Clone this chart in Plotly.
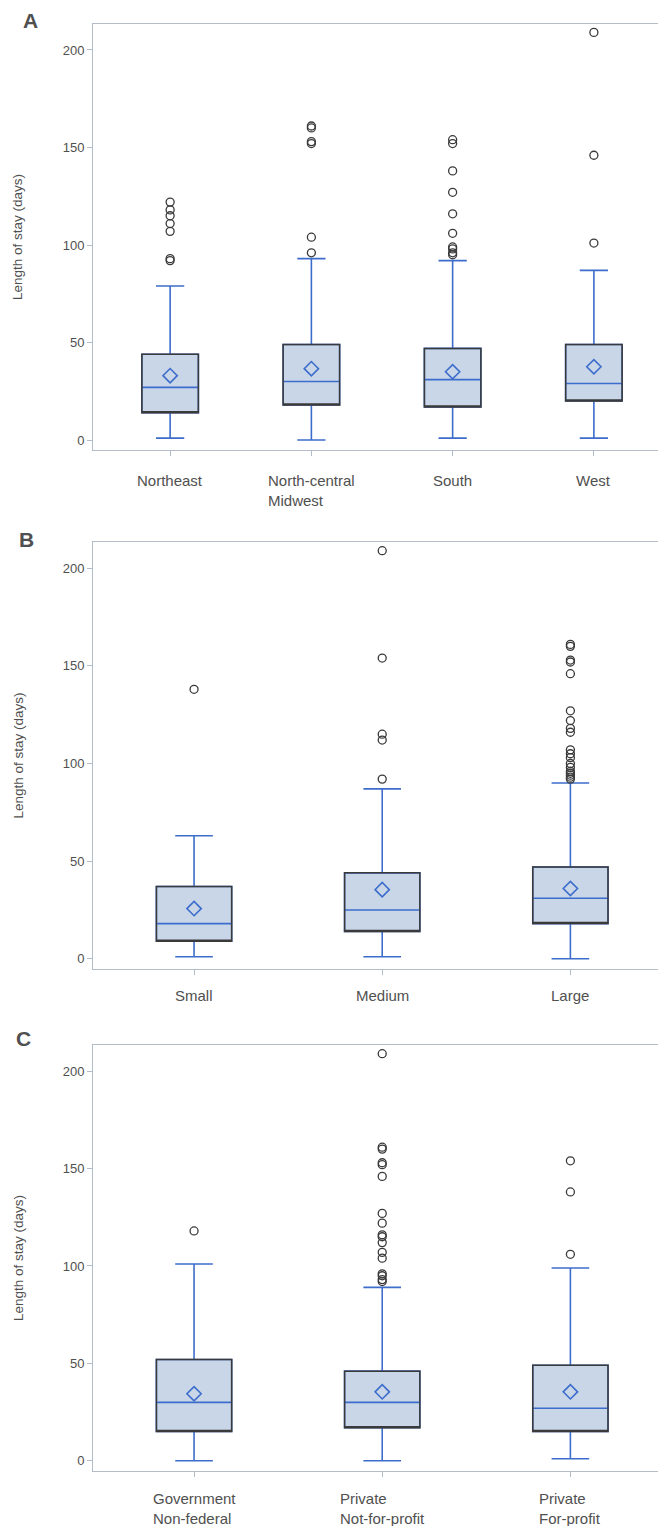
import plotly.graph_objects as go

# ---------------- data ----------------
A_cats = ["Northeast", "North-central<br>Midwest", "South", "West"]
A_q1 = [14, 18, 17, 20]
A_med = [27, 30, 31, 29]
A_q3 = [44, 49, 47, 49]
A_mean = [33, 36.6, 35, 37.6]
A_low = [1, 0, 1, 1]
A_high = [79, 93, 92, 87]
A_out = [[122, 118, 115, 111, 107, 93, 92],
         [161, 160, 153, 152, 104, 96],
         [154, 152, 138, 127, 116, 106, 99, 98, 96, 95],
         [209, 146, 101]]

B_cats = ["Small", "Medium", "Large"]
B_q1 = [9, 14, 18]
B_med = [18, 25, 31]
B_q3 = [37, 44, 47]
B_mean = [25.7, 35.4, 36]
B_low = [1, 1, 0]
B_high = [63, 87, 90]
B_out = [[138],
         [209, 154, 115, 112, 92],
         [161, 160, 153, 152, 146, 127, 122, 118, 116, 107, 105, 103, 100, 98, 96, 95, 94, 93, 92]]

C_cats = ["Government<br>Non-federal", "Private<br>Not-for-profit", "Private<br>For-profit"]
C_q1 = [15, 17, 15]
C_med = [30, 30, 27]
C_q3 = [52, 46, 49]
C_mean = [34.4, 35.4, 35.4]
C_low = [0, 0, 1]
C_high = [101, 89, 99]
C_out = [[118],
         [209, 161, 160, 153, 152, 146, 127, 122, 116, 115, 112, 107, 104, 96, 95, 93, 92],
         [154, 138, 106]]

panel_letters = ["A", "B", "C"]
y_title = "Length of stay (days)"
y_ticks = [0, 50, 100, 150, 200]

# ---------------- style ----------------
W, H = 666, 1526
BLUE = "#3D6DCC"
FILL = "#C9D6E8"
DARK = "#3A3A3A"
FRAME = "#B3BDC8"
TXT = "#505050"
FONT = "Liberation Sans, Arial, sans-serif"

panels = [
    dict(cats=A_cats, q1=A_q1, med=A_med, q3=A_q3, mean=A_mean, low=A_low, high=A_high, out=A_out,
         top=16, bottom=442, xr=[-0.546, 3.553], letter_xy=(22, 12.5), lab_gap=20),
    dict(cats=B_cats, q1=B_q1, med=B_med, q3=B_q3, mean=B_mean, low=B_low, high=B_high, out=B_out,
         top=534.3, bottom=960.7, xr=[-0.537, 2.54], letter_xy=(18, 531), lab_gap=16),
    dict(cats=C_cats, q1=C_q1, med=C_med, q3=C_q3, mean=C_mean, low=C_low, high=C_high, out=C_out,
         top=1037.3, bottom=1462.7, xr=[-0.537, 2.54], letter_xy=(15, 1030), lab_gap=17),
]

fig = go.Figure()
annotations = []
layout_axes = {}

for i, p in enumerate(panels):
    n = "" if i == 0 else str(i + 1)
    xa, ya = "x" + n, "y" + n
    # main box (blue whiskers + median, filled)
    fig.add_trace(go.Box(
        x=p["cats"], q1=p["q1"], median=p["med"], q3=p["q3"],
        lowerfence=p["low"], upperfence=p["high"],
        fillcolor=FILL, line=dict(color=BLUE, width=1.6),
        width=0.4, whiskerwidth=0.5, boxpoints=False,
        xaxis=xa, yaxis=ya, showlegend=False, hoverinfo="skip"))
    # dark box outline on top (transparent fill, whiskers collapsed onto box)
    fig.add_trace(go.Box(
        x=p["cats"], q1=p["q1"], median=p["q1"], q3=p["q3"],
        lowerfence=p["q1"], upperfence=p["q3"],
        fillcolor="rgba(0,0,0,0)", line=dict(color=DARK, width=1.5),
        width=0.4, whiskerwidth=0, boxpoints=False,
        xaxis=xa, yaxis=ya, showlegend=False, hoverinfo="skip"))
    # means
    fig.add_trace(go.Scatter(
        x=p["cats"], y=p["mean"], mode="markers",
        marker=dict(symbol="diamond-open", size=11, color=BLUE, line=dict(width=1.6, color=BLUE)),
        xaxis=xa, yaxis=ya, showlegend=False, hoverinfo="skip"))
    # outliers
    ox, oy = [], []
    for c, vals in zip(p["cats"], p["out"]):
        for v in vals:
            ox.append(c)
            oy.append(v)
    fig.add_trace(go.Scatter(
        x=ox, y=oy, mode="markers",
        marker=dict(symbol="circle-open", size=8, color=DARK, line=dict(width=1.3, color=DARK)),
        xaxis=xa, yaxis=ya, showlegend=False, hoverinfo="skip"))

    dom = [1 - p["bottom"] / H, 1 - p["top"] / H]
    layout_axes["xaxis" + n] = dict(
        domain=[85 / W, 664 / W], anchor=ya, type="category",
        categoryorder="array", categoryarray=p["cats"], range=p["xr"],
        showline=True, mirror=True, linecolor=FRAME, linewidth=1,
        ticks="outside", ticklen=5, tickcolor=FRAME, showticklabels=False,
        showgrid=False, zeroline=False, fixedrange=True)
    layout_axes["yaxis" + n] = dict(
        domain=dom, anchor=xa, range=[-5.1, 213.3],
        tickvals=y_ticks, ticks="outside", ticklen=5, tickcolor=FRAME,
        tickfont=dict(family=FONT, size=13, color=TXT),
        showline=True, mirror=True, linecolor=FRAME, linewidth=1,
        showgrid=False, zeroline=False, fixedrange=True)

    # category labels (left-aligned lines, centred blocks)
    for c in p["cats"]:
        annotations.append(dict(
            x=c, xref=xa, y=0, yref=ya + " domain", yanchor="top", xanchor="center",
            yshift=-p["lab_gap"], text=c, align="left", showarrow=False,
            font=dict(family=FONT, size=15, color=TXT)))
    # y title
    annotations.append(dict(
        x=10 / W, xref="paper", y=0.5, yref=ya + " domain", xanchor="center", yanchor="middle",
        text=y_title, textangle=-90, showarrow=False,
        font=dict(family=FONT, size=13.5, color=TXT)))
    # panel letter
    lx, ly = p["letter_xy"]
    annotations.append(dict(
        x=lx / W, xref="paper", y=1 - ly / H, yref="paper", xanchor="center", yanchor="middle",
        text="<b>%s</b>" % panel_letters[i], showarrow=False,
        font=dict(family=FONT, size=21, color=TXT)))

fig.update_layout(
    width=W, height=H, autosize=False,
    margin=dict(l=0, r=0, t=0, b=0),
    paper_bgcolor="white", plot_bgcolor="white",
    boxmode="overlay",
    annotations=annotations,
    **layout_axes)

fig.write_html("out.html")
